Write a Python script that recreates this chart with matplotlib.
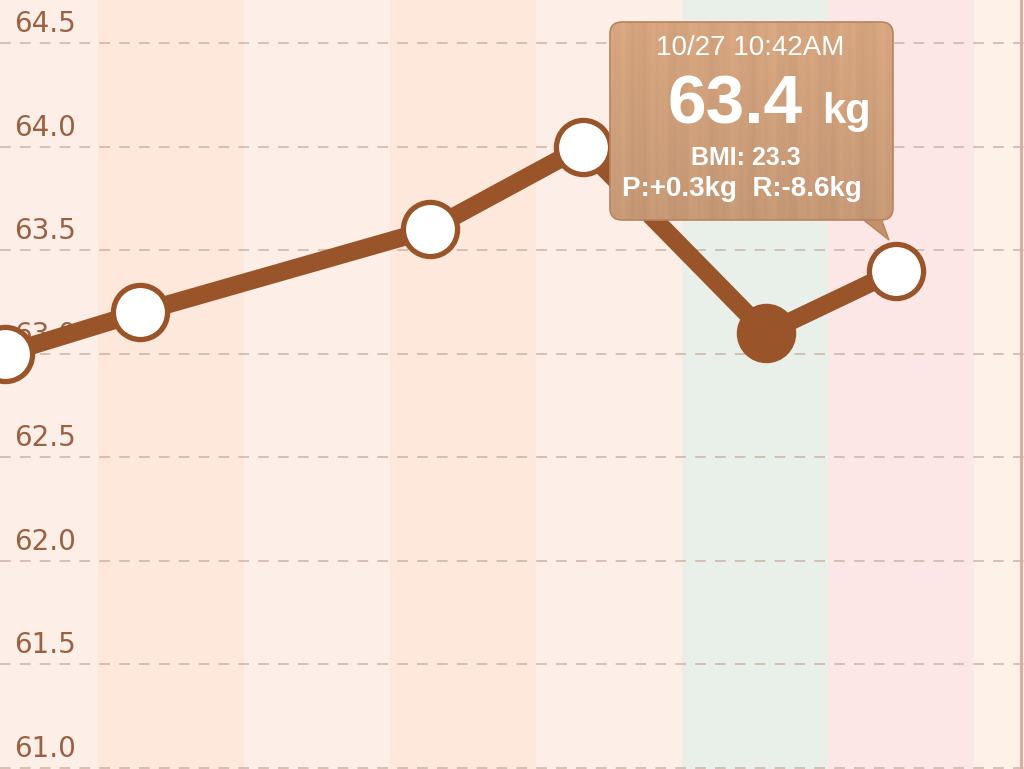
import numpy as np
import matplotlib
matplotlib.use("Agg")
import matplotlib.pyplot as plt
from matplotlib.patches import FancyBboxPatch, Polygon
from matplotlib import transforms

# weight readings, x in days (day 0 = first full column on screen)
days = [-0.637, 0.288, 2.274, 3.322, 4.575, 5.466]
weights = [63.0, 63.2, 63.6, 64.0, 63.1, 63.4]
highlight = [False, False, False, False, True, False]

# one background colour per day column, from day -1 to day 6
band_days = [-1, 0, 1, 2, 3, 4, 5, 6]
band_colors = ["#FDEFE7", "#FDE8DB", "#FDEFE7", "#FDE8DB",
               "#FDEFE7", "#E8F0E9", "#FDE7E6", "#FEF2E8"]

y_ticks = [61.0, 61.5, 62.0, 62.5, 63.0, 63.5, 64.0, 64.5]
tick_labels = ["61.0", "61.5", "62.0", "62.5", "63.0", "63.5", "64.0", "64.5"]

tip_date = "10/27 10:42AM"
tip_weight = "63.4"
tip_bmi = "BMI: 23.3"
tip_diff = "P:+0.3kg  R:-8.6kg"

brown = "#9A5429"
label_color = "#9A6142"

fig = plt.figure(figsize=(10.24, 7.69), dpi=100)
ax = fig.add_axes([0, 0, 1, 1])
ax.set_xlim(-0.671, 6.342)
ax.set_ylim(60.995, 64.708)
ax.axis("off")

for d, c in zip(band_days, band_colors):
    ax.axvspan(d, d + 1, color=c, lw=0, zorder=0)

for y in y_ticks:
    ax.axhline(y, color="#CDB2A6", lw=1.1, dashes=(7, 6), zorder=1)

offset = transforms.offset_copy(ax.get_yaxis_transform(), fig=fig, x=0, y=8, units="points")
for y, lab in zip(y_ticks, tick_labels):
    ax.text(0.014, y, lab, transform=offset, ha="left", va="baseline",
            fontsize=20, color=label_color, family="DejaVu Sans", zorder=2)

ax.axvline(6.32, color="#D6B0A0", lw=2.2, zorder=1)

# line and points
ax.plot(days, weights, color=brown, lw=13, solid_capstyle="round", zorder=3)
for d, w, h in zip(days, weights, highlight):
    face = brown if h else "white"
    ax.plot(d, w, marker="o", ms=39, mfc=face, mec=brown, mew=3.8, zorder=4)

# ------------------
# TOOLTIP (pixel coords overlay)
# ------------------
ov = fig.add_axes([0, 0, 1, 1])
ov.patch.set_alpha(0)
ov.axis("off")

x0, x1, y0, y1 = 610, 893, 22, 220
box = FancyBboxPatch((x0, y0), x1 - x0, y1 - y0,
                     boxstyle="round,pad=0,rounding_size=12",
                     fc="none", ec="#B8835E", lw=1.2, zorder=6)
tail = Polygon([(861, 218), (881, 218), (889, 240)], closed=True,
               fc="#C5916B", ec="#B8835E", lw=1.0, zorder=5)
ov.add_patch(tail)
ov.add_patch(box)

# soft wood-like gradient inside the box
xs = np.linspace(0, 1, 300)
grain = 0.015 * np.sin(xs * 47) + 0.010 * np.sin(xs * 131 + 1.3) + 0.006 * np.sin(xs * 293 + 0.4)
ys = np.linspace(0, 1, 200)[:, None]
shade = 1.02 - 0.08 * ys + grain[None, :]
base = np.array([0xD2, 0xA2, 0x7D]) / 255.0
img = np.clip(shade[..., None] * base[None, None, :], 0, 1)
im = ov.imshow(img, extent=(x0, x1, y1, y0), aspect="auto", zorder=5)
clip = FancyBboxPatch((x0, y0), x1 - x0, y1 - y0,
                      boxstyle="round,pad=0,rounding_size=12",
                      transform=ov.transData, fc="none", ec="none")
im.set_clip_path(clip)

ov.set_xlim(0, 1024)
ov.set_ylim(769, 0)

ov.text(750, 55, tip_date, ha="center", va="baseline", color="white",
        fontsize=20, fontweight="medium", family="Liberation Sans", zorder=7)
ov.text(667, 123, tip_weight, ha="left", va="baseline", color="white",
        fontsize=50, fontweight="bold", family="Liberation Sans", zorder=7)
ov.text(822, 123, "kg", ha="left", va="baseline", color="white",
        fontsize=30, fontweight="bold", family="Liberation Sans", zorder=7)
ov.text(746, 165, tip_bmi, ha="center", va="baseline", color="white",
        fontsize=18, fontweight="bold", family="Liberation Sans", zorder=7)
ov.text(742, 196, tip_diff, ha="center", va="baseline", color="white",
        fontsize=20, fontweight="bold", family="Liberation Sans", zorder=7)

fig.savefig("out.png", dpi=100)
plt.close(fig)
